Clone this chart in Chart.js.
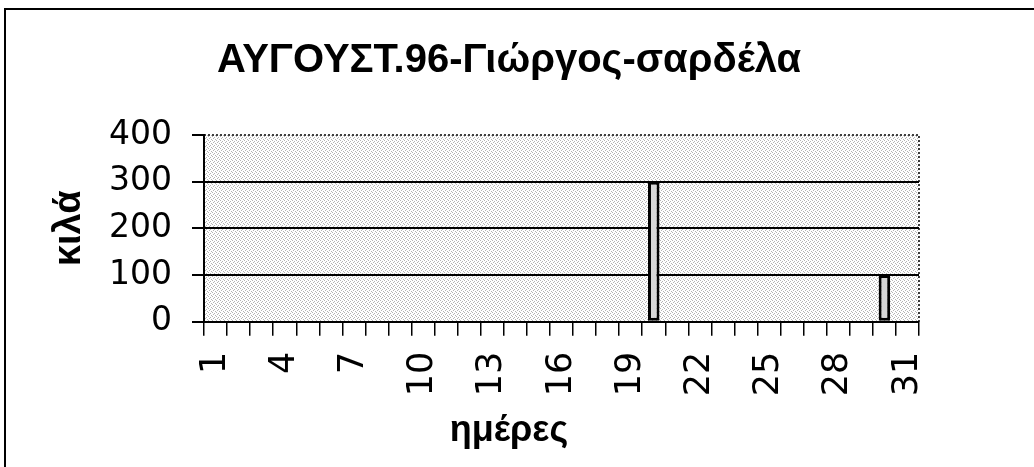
<!DOCTYPE html>
<html>
<head>
<meta charset="utf-8">
<script src="https://cdn.jsdelivr.net/npm/chart.js@4.4.1/dist/chart.umd.min.js"></script>
<style>
  html, body { margin: 0; padding: 0; background: #fff; }
</style>
</head>
<body>
<canvas id="chart" width="1034" height="467"></canvas>
<script>
// ─── DATA ────────────────────────────────────────────
const days = ['1','2','3','4','5','6','7','8','9','10','11','12','13','14','15','16',
              '17','18','19','20','21','22','23','24','25','26','27','28','29','30','31'];
const kilos = [null, null, null, null, null, null, null, null, null, null, null, null, null, null, null, null,
               null, null, null, 300, null, null, null, null, null, null, null, null, null, 100, null];
const shownDays = ['1','4','7','10','13','16','19','22','25','28','31'];
const yMin = 0, yMax = 400, yStep = 100;

const titleText = 'ΑΥΓΟΥΣΤ.96-Γιώργος-σαρδέλα';
const yTitle = 'κιλά';
const xTitle = 'ημέρες';

// ─── PLOT BACKGROUND + FRAME ─────────────────────────
/**
 * Draws the outer frame of the picture and the stippled grey
 * fill of the plot area, before the grid and bars go on top.
 */
const plotBackground = {
    id: 'plotBackground',
    beforeDraw(chart) {
        const { ctx, chartArea: a } = chart;
        ctx.save();

        ctx.strokeStyle = '#000';
        ctx.lineWidth = 2;
        ctx.strokeRect(5, 9, 1100, 500);

        // small stipple tile, like the old printed dither
        const tile = document.createElement('canvas');
        tile.width = tile.height = 4;
        const t = tile.getContext('2d');
        t.fillStyle = '#fff';
        t.fillRect(0, 0, 4, 4);
        t.fillStyle = '#b4b4b4';
        [[0, 0], [2, 1], [1, 2], [3, 3]].forEach(([x, y]) => t.fillRect(x, y, 1, 1));
        ctx.fillStyle = ctx.createPattern(tile, 'repeat');
        ctx.fillRect(a.left, a.top, a.width, a.height);

        // dotted top and right edge of the plot
        ctx.setLineDash([2, 2]);
        ctx.lineWidth = 1.5;
        ctx.beginPath();
        ctx.moveTo(a.left, a.top);
        ctx.lineTo(a.right, a.top);
        ctx.lineTo(a.right, a.bottom);
        ctx.stroke();
        ctx.restore();
    }
};

new Chart(document.getElementById('chart'), {
    type: 'bar',
    data: {
        labels: days,
        datasets: [{
            label: yTitle,
            data: kilos,
            backgroundColor: '#d6d6d6',
            borderColor: '#000',
            borderWidth: 3,
            borderSkipped: false,
            barPercentage: 0.5,
            categoryPercentage: 1
        }]
    },
    options: {
        responsive: false,
        animation: false,
        layout: { padding: { left: 0, right: 16, top: 0, bottom: 0 } },
        plugins: {
            legend: { display: false },
            tooltip: { enabled: false },
            title: {
                display: true,
                text: titleText,
                color: '#000',
                font: { family: "'Liberation Sans', Arial, sans-serif", size: 40, weight: 'bold' },
                padding: { top: 37, bottom: 50 }
            },
            subtitle: {
                display: true,
                position: 'bottom',
                text: xTitle,
                color: '#000',
                font: { family: "'Liberation Sans', Arial, sans-serif", size: 36, weight: 'bold' },
                padding: { top: 8, bottom: 14 }
            }
        },
        scales: {
            x: {
                afterFit: s => { s.height = 80; },
                border: { display: true, color: '#000', width: 2 },
                grid: {
                    offset: true,
                    drawOnChartArea: false,
                    drawTicks: true,
                    tickLength: 14,
                    color: '#000',
                    lineWidth: 1.5
                },
                ticks: {
                    autoSkip: false,
                    minRotation: 90,
                    maxRotation: 90,
                    padding: 16,
                    color: '#000',
                    font: { family: "'DejaVu Sans', sans-serif", size: 35 },
                    callback: function (value) {
                        const lbl = this.getLabelForValue(value);
                        return shownDays.includes(lbl) ? lbl : '';
                    }
                }
            },
            y: {
                min: yMin,
                max: yMax,
                afterFit: s => { s.width = 204; },
                border: { display: true, color: '#000', width: 2 },
                grid: {
                    color: ctx => (ctx.tick && ctx.tick.value === yMax) ? 'rgba(0,0,0,0)' : '#000',
                    tickColor: '#000',
                    lineWidth: 2,
                    tickLength: 12
                },
                ticks: {
                    stepSize: yStep,
                    padding: 20,
                    color: '#000',
                    font: { family: "'DejaVu Sans', sans-serif", size: 33 }
                },
                title: {
                    display: true,
                    text: yTitle,
                    color: '#000',
                    font: { family: "'Liberation Sans', Arial, sans-serif", size: 38, weight: 'bold' },
                    padding: { top: 47, bottom: 0 }
                }
            },
            // empty axis on the right, only to keep the white margin there
            yRight: {
                position: 'right',
                display: true,
                afterFit: s => { s.width = 99; },
                border: { display: false },
                grid: { display: false },
                ticks: { display: false }
            }
        }
    },
    plugins: [plotBackground]
});
</script>
</body>
</html>
